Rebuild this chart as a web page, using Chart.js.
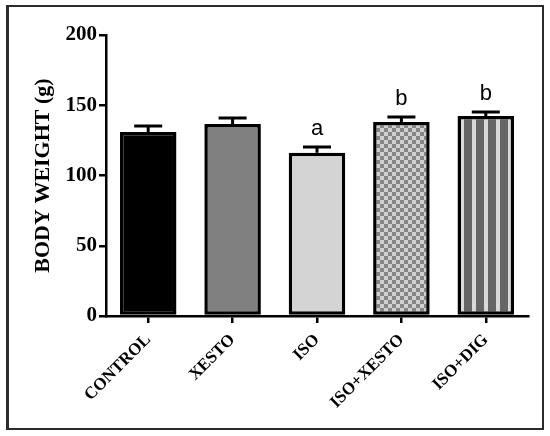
<!DOCTYPE html>
<html>
<head>
<meta charset="utf-8">
<script src="https://cdn.jsdelivr.net/npm/chart.js@4"></script>
<style>
  html, body { margin: 0; padding: 0; background: #fff; }
  #wrap { width: 550px; height: 436px; }
</style>
</head>
<body>
<div id="wrap"><canvas id="bw" width="550" height="436"></canvas></div>
<script>
// groups, means, SEM and significance letters
const groups = ["CONTROL", "XESTO", "ISO", "ISO+XESTO", "ISO+DIG"];
const means = [131, 136.7, 116.2, 138.1, 142.3];
const errors = [4.2, 4.2, 4.1, 3.5, 2.9];
const letters = ["", "", "a", "b", "b"];
const yTicks = [0, 50, 100, 150, 200];

const serif = "'Liberation Serif', 'Times New Roman', serif";

// fill patterns
function checker() {
  const c = document.createElement("canvas");
  c.width = 8; c.height = 8;
  const g = c.getContext("2d");
  g.fillStyle = "#d0d0d0"; g.fillRect(0, 0, 8, 8);
  g.fillStyle = "#868686";
  g.fillRect(0, 0, 4, 4); g.fillRect(4, 4, 4, 4);
  return g.createPattern(c, "repeat");
}
function stripes() {
  const c = document.createElement("canvas");
  c.width = 12; c.height = 4;
  const g = c.getContext("2d");
  g.fillStyle = "#666666"; g.fillRect(0, 0, 12, 4);
  g.fillStyle = "#dadada"; g.fillRect(4, 0, 4, 4);
  return g.createPattern(c, "repeat");
}

const fills = ["#000000", "#808080", "#d4d4d4", checker(), stripes()];

// error bar caps + letters above them
const errBars = {
  id: "errBars",
  afterDatasetsDraw(chart) {
    const { ctx, scales } = chart;
    const meta = chart.getDatasetMeta(0);
    ctx.save();
    ctx.strokeStyle = "#000";
    ctx.lineWidth = 3;
    meta.data.forEach((bar, i) => {
      const yTop = scales.y.getPixelForValue(means[i] + errors[i]);
      const yMid = scales.y.getPixelForValue(means[i]);
      ctx.beginPath();
      ctx.moveTo(bar.x, yMid);
      ctx.lineTo(bar.x, yTop);
      ctx.moveTo(bar.x - 14, yTop);
      ctx.lineTo(bar.x + 14, yTop);
      ctx.stroke();
      if (letters[i]) {
        ctx.fillStyle = "#000";
        ctx.font = "22px 'Liberation Sans', Arial, sans-serif";
        ctx.textAlign = "center";
        ctx.textBaseline = "bottom";
        ctx.fillText(letters[i], bar.x, yTop - 7);
      }
    });
    ctx.restore();
  },
};

// outer frame
const frame = {
  id: "frame",
  afterDraw(chart) {
    const ctx = chart.ctx;
    ctx.save();
    ctx.strokeStyle = "#2b2b2b";
    ctx.lineWidth = 2;
    ctx.strokeRect(7, 6, 536, 423);
    ctx.fillStyle = "#2b2b2b";
    ctx.fillRect(6, 6, 3, 423);
    ctx.restore();
  },
};

new Chart(document.getElementById("bw"), {
  type: "bar",
  data: {
    labels: groups,
    datasets: [{
      data: means,
      backgroundColor: fills,
      borderColor: "#000",
      borderWidth: 3.5,
      borderSkipped: false,
      barPercentage: 0.67,
      categoryPercentage: 1,
    }],
  },
  options: {
    responsive: false,
    animation: false,
    layout: { padding: { left: 30, right: 22, top: 35, bottom: 0 } },
    plugins: { legend: { display: false }, tooltip: { enabled: false } },
    scales: {
      x: {
        grid: { display: true, offset: false, drawOnChartArea: false, drawTicks: true, tickLength: 7, color: "#000", lineWidth: 2.5 },
        border: { display: true, color: "#000", width: 2.5 },
        ticks: {
          color: "#000",
          font: { family: serif, size: 17, weight: "bold" },
          minRotation: 45, maxRotation: 45, padding: 7,
        },
        afterFit(s) { s.height = 120; },
      },
      y: {
        min: 0, max: 200,
        afterBuildTicks(s) { s.ticks = yTicks.map(v => ({ value: v })); },
        grid: { display: true, drawOnChartArea: false, drawTicks: true, tickLength: 7, color: "#000", lineWidth: 2.5 },
        border: { display: true, color: "#000", width: 2.5 },
        ticks: { color: "#000", font: { family: serif, size: 21, weight: "bold" }, padding: 2 },
        title: {
          display: true, text: "BODY WEIGHT (g)", color: "#000",
          font: { family: serif, size: 22, weight: "bold" }, padding: { top: 0, bottom: 0 },
        },
        afterFit(s) { s.width = 76; },
      },
    },
  },
  plugins: [errBars, frame],
});
</script>
</body>
</html>
